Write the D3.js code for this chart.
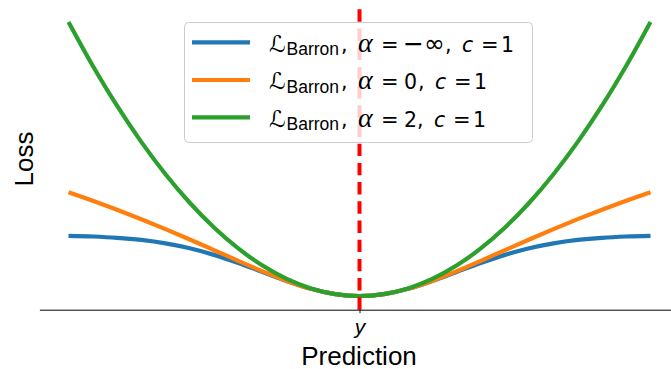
<!DOCTYPE html>
<html>
<head>
<meta charset="utf-8">
<script src="https://cdn.jsdelivr.net/npm/d3@7"></script>
<style>
  html, body { margin: 0; padding: 0; background: #fff; }
  svg { display: block; }
  text { white-space: pre; }
</style>
</head>
<body>
<svg id="chart" width="671" height="369"></svg>
<script>
// ---- data ----
const predictions = [-3, -2.75, -2.5, -2.25, -2, -1.75, -1.5, -1.25, -1, -0.75, -0.5, -0.25, 0,
                      0.25, 0.5, 0.75, 1, 1.25, 1.5, 1.75, 2, 2.25, 2.5, 2.75, 3];
const lossAlphaNegInf = [0.9889, 0.9772, 0.9561, 0.9204, 0.8647, 0.7837, 0.6753, 0.5422, 0.3935, 0.2452, 0.1175, 0.0308, 0,
                         0.0308, 0.1175, 0.2452, 0.3935, 0.5422, 0.6753, 0.7837, 0.8647, 0.9204, 0.9561, 0.9772, 0.9889];
const lossAlpha0 = [1.7048, 1.5647, 1.4171, 1.2617, 1.0986, 0.9287, 0.7538, 0.5773, 0.4055, 0.2478, 0.1178, 0.0308, 0,
                    0.0308, 0.1178, 0.2478, 0.4055, 0.5773, 0.7538, 0.9287, 1.0986, 1.2617, 1.4171, 1.5647, 1.7048];
const lossAlpha2 = [4.5, 3.7813, 3.125, 2.5313, 2, 1.5313, 1.125, 0.7813, 0.5, 0.2813, 0.125, 0.0313, 0,
                    0.0313, 0.125, 0.2813, 0.5, 0.7813, 1.125, 1.5313, 2, 2.5313, 3.125, 3.7813, 4.5];
const alphaLabels = ["\u2212\u221E", "0", "2"];
const cLabels = ["1", "1", "1"];
const seriesColors = ["#1f77b4", "#ff7f0e", "#2ca02c"];
const tickValues = [0];
const tickLabels = ["y"];
const targetValue = 0;

const series = [lossAlphaNegInf, lossAlpha0, lossAlpha2];

// ---- layout ----
const svg = d3.select("#chart");
const x = d3.scaleLinear().domain([-3.3, 3.3]).range([39.4, 679.6]);
const y = d3.scaleLinear().domain([-0.225, 4.725]).range([309.7, 8.3]);

const line = d3.line()
  .x((d, i) => x(predictions[i]))
  .y(d => y(d))
  .curve(d3.curveCatmullRom.alpha(0.5));

svg.append("g").selectAll("path")
  .data(series)
  .join("path")
  .attr("d", d => line(d))
  .attr("fill", "none")
  .attr("stroke", (d, i) => seriesColors[i])
  .attr("stroke-width", 4.2)
  .attr("stroke-linejoin", "round");

svg.append("line")
  .attr("x1", x(targetValue)).attr("x2", x(targetValue))
  .attr("y1", y.range()[0]).attr("y2", y.range()[1])
  .attr("stroke", "#ff0000")
  .attr("stroke-width", 4)
  .attr("stroke-dasharray", "12.4,6.8");

const xAxis = d3.axisBottom(x)
  .tickValues(tickValues)
  .tickFormat((d, i) => tickLabels[i])
  .tickSizeInner(3.5)
  .tickSizeOuter(0)
  .tickPadding(4);
const gx = svg.append("g")
  .attr("transform", `translate(0,${y.range()[0]})`)
  .call(xAxis);
gx.select(".domain").attr("stroke", "#000").attr("stroke-width", 1);
gx.selectAll(".tick line").attr("stroke", "#000").attr("stroke-width", 0.9);
gx.selectAll(".tick text")
  .attr("fill", "#000")
  .attr("font-family", "Liberation Sans, Arial, sans-serif")
  .attr("font-style", "italic")
  .attr("font-size", 21)
  .attr("dy", null)
  .attr("y", 24.2);

svg.append("text")
  .attr("x", x(0) - 0.5).attr("y", 364.5)
  .attr("text-anchor", "middle")
  .attr("font-family", "Liberation Sans, Arial, sans-serif")
  .attr("font-size", 26)
  .attr("fill", "#000")
  .text("Prediction");

svg.append("text")
  .attr("transform", "translate(33,159) rotate(-90)")
  .attr("text-anchor", "middle")
  .attr("font-family", "Liberation Sans, Arial, sans-serif")
  .attr("font-size", 26)
  .attr("fill", "#000")
  .text("Loss");

// legend
const legend = svg.append("g");
legend.append("rect")
  .attr("x", 184.5).attr("y", 22.5)
  .attr("width", 348).attr("height", 120)
  .attr("rx", 4).attr("ry", 4)
  .attr("fill", "#fff").attr("fill-opacity", 0.8)
  .attr("stroke", "#cccccc").attr("stroke-width", 1);

const rowY = [42.3, 80, 117.3];
const SANS = "Liberation Sans";
const DJ = "DejaVu Sans";
const ctx = document.createElement("canvas").getContext("2d");
function ink(str, family, size, italic) {
  ctx.font = `${italic ? "italic " : ""}${size}px "${family}"`;
  const m = ctx.measureText(str);
  return { left: m.actualBoundingBoxLeft, right: m.actualBoundingBoxRight };
}

series.forEach((s, i) => {
  const g = legend.append("g");
  const base = rowY[i] + 9.3;
  g.append("line")
    .attr("x1", 192).attr("x2", 250)
    .attr("y1", rowY[i]).attr("y2", rowY[i])
    .attr("stroke", seriesColors[i])
    .attr("stroke-width", 4.2);

  const put = (inkLeft, str, o = {}) => {
    const fam = o.family || DJ, size = o.size || 20.5, it = !!o.italic;
    const m = ink(str, fam, size, it);
    const xx = inkLeft + m.left;
    g.append("text")
      .attr("x", xx).attr("y", base + (o.dy || 0))
      .attr("font-family", fam)
      .attr("font-size", size)
      .attr("font-style", it ? "italic" : "normal")
      .attr("fill", "#000")
      .text(str);
    return xx + m.right;
  };

  put(269, "\u2112", { family: DJ, size: 23 });
  put(287.5, "Barron", { family: SANS, size: 17.5, dy: 3.4 });
  put(342, ",");
  put(358, "\u03B1", { family: "Liberation Serif", size: 28, italic: true });
  put(383, "=", { size: 21 });
  const isDigit = /^[0-9]+$/.test(alphaLabels[i]);
  let E;
  if (isDigit) {
    E = put(405, alphaLabels[i]);
  } else {
    const e1 = put(405, alphaLabels[i][0], { size: 25 });
    E = put(e1 + 4, alphaLabels[i].slice(1), { size: 25 });
  }
  put(E + 3, ",");
  put(E + 19, "c", { italic: true });
  put(E + 40, "=", { size: 21 });
  put(E + 60, cLabels[i]);
});
</script>
</body>
</html>
